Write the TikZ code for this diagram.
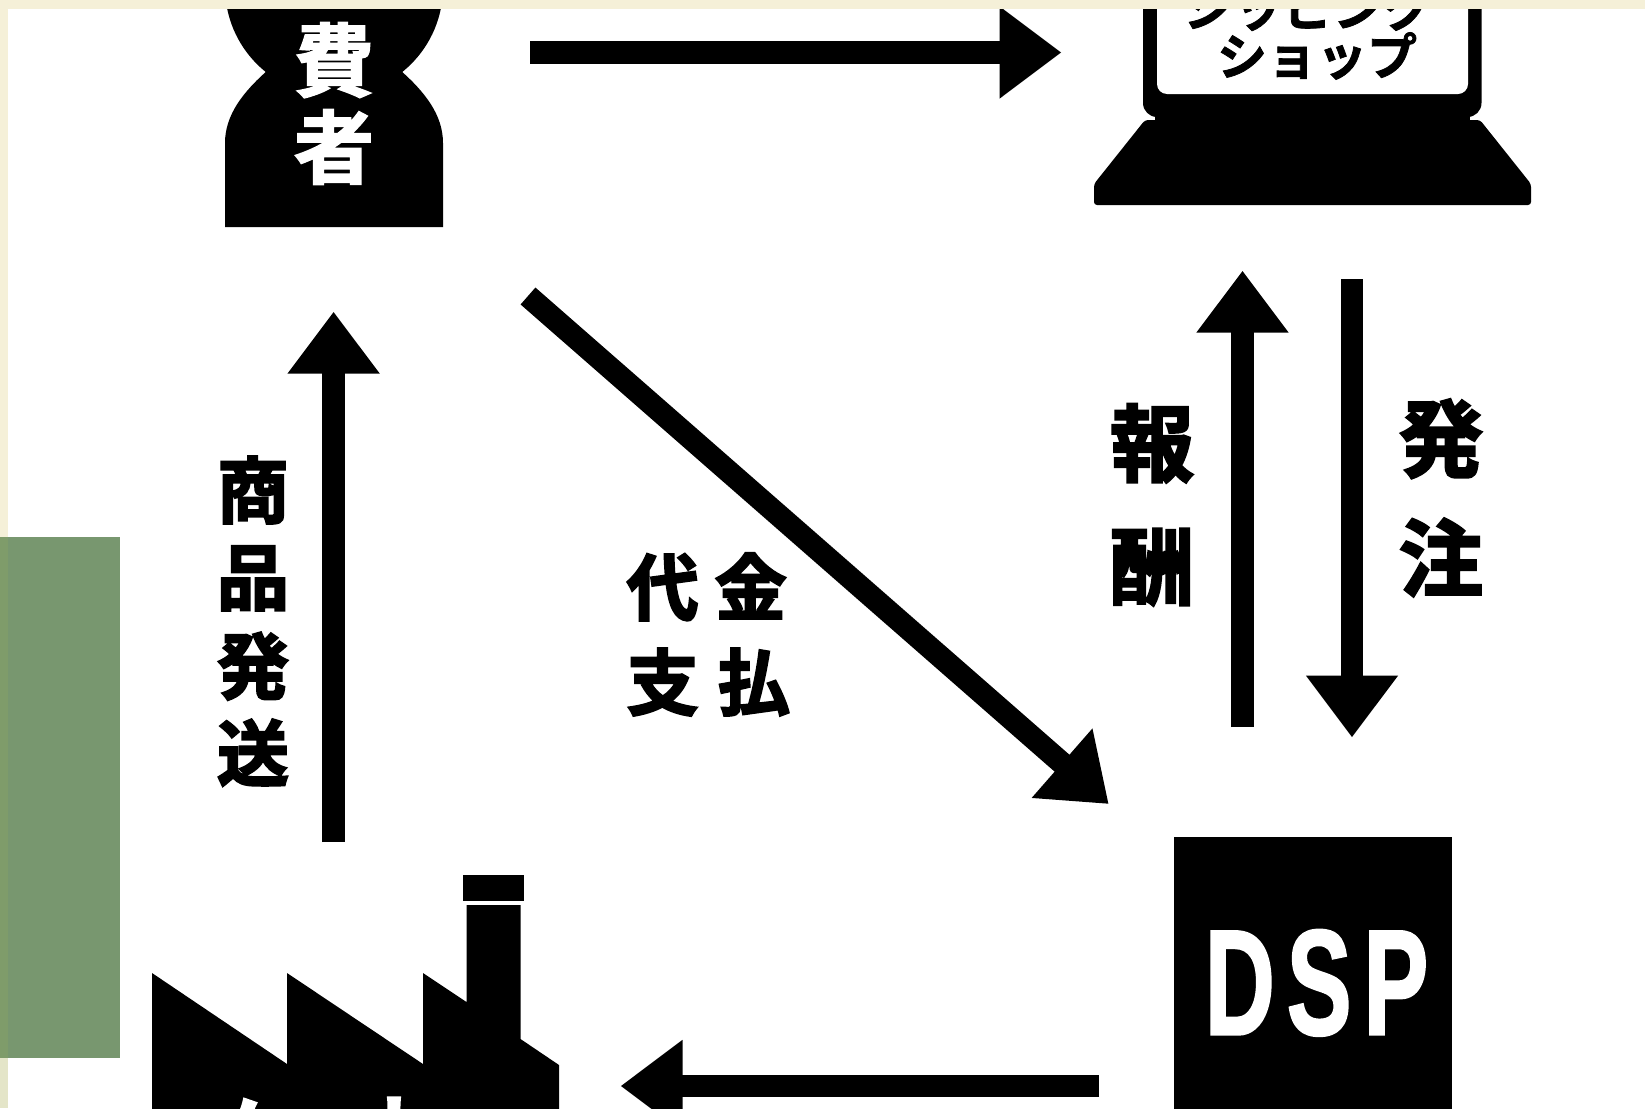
\documentclass[tikz,border=0pt]{standalone}
\usepackage{fontspec}
\usetikzlibrary{arrows.meta}
\setmainfont{Liberation Sans}
\newfontfamily\cjkf{Noto Sans CJK JP Bold}[FakeBold=1.5]
\newfontfamily\cjkw{Noto Sans CJK JP Bold}[FakeBold=2]
\newfontfamily\cjkh{Noto Sans CJK JP Bold}[FakeBold=3]
\newfontfamily\dspf{Liberation Sans Bold}[FakeBold=1.6]
\definecolor{cream}{HTML}{F5F0D8}
\definecolor{creamlow}{HTML}{E4E5C8}
\definecolor{sage}{HTML}{78976F}
\definecolor{sagestrip}{HTML}{7F9C6A}
\newcommand{\cjt}[2]{\fontsize{#1}{#1}\selectfont\cjkh\rule[-.12em]{0pt}{1em}#2}
\newcommand{\cjw}[2]{\fontsize{#1}{#1}\selectfont\cjkw\rule[-.12em]{0pt}{1em}#2}
\tikzset{
  x=1pt,y=-1pt,
  blockarrow/.style={line width=22.5pt,-{Triangle[length=62pt,width=88pt]},black},
  glyph/.style={inner sep=0pt,outer sep=0pt,text=black},
  glyphw/.style={inner sep=0pt,outer sep=0pt,text=white},
  ink/.style={fill=black,draw=none},
}
\begin{document}
\begin{tikzpicture}
\useasboundingbox (0,0) rectangle (1645,1108);
\fill[white] (0,0) rectangle (1645,1108);
\fill[creamlow] (0,0) rectangle (8,1108);
% person
\fill[ink] (334,-13) circle[radius=109];
\fill[ink] (225,227) -- (225,143) .. controls (225,115) and (243,92) .. (268,70) -- (400,70)
  .. controls (425,92) and (443,115) .. (443,143) -- (443,227) -- cycle;
\node[glyphw] (p1) at (334,-33) {\cjw{80}{消}};
\node[glyphw] (p2) at (334,60) {\cjw{80}{費}};
\node[glyphw] (p3) at (334,147) {\cjw{80}{者}};
% laptop
\fill[ink,rounded corners=14] (1143,-30) rectangle (1481.5,117);
\fill[ink] (1155,105) rectangle (1470,130);
\fill[ink,rounded corners=3] (1145,120) -- (1094,184) -- (1094,205) -- (1531,205) -- (1531,184) -- (1480,120) -- cycle;
\fill[white,rounded corners=10] (1157,-30) rectangle (1468,94);
\node[glyph] (s1) at (1308,7) {\fontsize{50}{50}\selectfont\cjkf シッピング};
\node[glyph] (s2) at (1317,56) {\fontsize{50}{50}\selectfont\cjkf ショップ};
% factory
\fill[ink] (152,1120) -- (152,973) -- (287,1064) -- (287,973) -- (423,1064) -- (423,973)
  -- (466.5,1002) -- (466.5,905) -- (520.5,905) -- (520.5,1039) -- (559,1065) -- (559,1120) -- cycle;
\fill[ink] (463,875) rectangle (524,901);
\node[glyphw] (f1) at (355,1133) {\cjw{85}{メーカー}};
% DSP
\node[fill=black,inner sep=0pt,outer sep=0pt,minimum width=278pt,minimum height=300pt,anchor=north west] (dsp) at (1174,837) {};
\node[inner sep=0pt,text=white,anchor=base] (dspt) at (1316.5,1034.5)
  {\scalebox{.65}[1]{\fontsize{150}{150}\selectfont\dspf D\kern 18pt S\kern 18pt P}};
% arrows
\coordinate (a1s) at (530,52.5);   \coordinate (a1e) at (1061.5,52.5);
\coordinate (a2s) at (528,296);    \coordinate (a2e) at (1108.7,804);
\coordinate (a3s) at (333.6,842);  \coordinate (a3e) at (333.6,311.6);
\coordinate (a4s) at (1242.5,727); \coordinate (a4e) at (1242.5,270.6);
\coordinate (a5s) at (1352,279);   \coordinate (a5e) at (1352,737.5);
\coordinate (a6s) at (1099,1086);  \coordinate (a6e) at (620.5,1086);
\draw[blockarrow] (a1s) -- (a1e);
\draw[blockarrow] (a2s) -- (a2e);
\draw[blockarrow] (a3s) -- (a3e);
\draw[blockarrow] (a4s) -- (a4e);
\draw[blockarrow] (a5s) -- (a5e);
\draw[blockarrow] (a6s) -- (a6e);
% labels
\node[glyph] (l1) at (253,490) {\cjt{72}{商}};
\node[glyph] (l2) at (253,577) {\cjt{72}{品}};
\node[glyph] (l3) at (253,666) {\cjt{72}{発}};
\node[glyph] (l4) at (253,753) {\cjt{72}{送}};
\node[glyph] (m1) at (662.7,587) {\cjt{72}{代}};
\node[glyph] (m2) at (750.7,587) {\cjt{72}{金}};
\node[glyph] (m3) at (662.7,682) {\cjt{72}{支}};
\node[glyph] (m4) at (754,682) {\cjt{72}{払}};
\node[glyph] (r1) at (1152,443) {\cjt{84}{報}};
\node[glyph] (r2) at (1152,566) {\cjt{84}{酬}};
\node[glyph] (o1) at (1441,438.5) {\cjt{84}{発}};
\node[glyph] (o2) at (1441,558) {\cjt{84}{注}};
% frame
\fill[cream] (0,0) rectangle (1645,9);
\fill[cream] (0,0) rectangle (8,537);
\fill[sage] (8,537) rectangle (120,1058);
\fill[sagestrip] (0,537) rectangle (8,1058);
\end{tikzpicture}
\end{document}
